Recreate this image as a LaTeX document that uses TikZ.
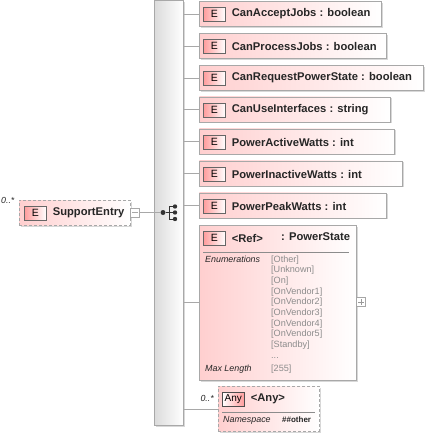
\documentclass[tikz,border=0pt]{standalone}
\usepackage{fontspec}
\setmainfont{Liberation Sans}
\usepackage{xcolor}
\usetikzlibrary{shadows,positioning,calc}
\definecolor{boxPink}{HTML}{FFCFCF}
\definecolor{badgePink}{HTML}{FF9C9C}
\definecolor{edgeGrey}{HTML}{A8A8A8}
\definecolor{labelGrey}{HTML}{8C8C8C}
\begin{document}
\begin{tikzpicture}[
    x=1pt, y=-1pt,
    font=\fontsize{11.2}{13}\selectfont\bfseries,
    elembox/.style={draw=edgeGrey, left color=boxPink, right color=white, anchor=north west, inner sep=0pt, line width=0.8pt,
      drop shadow={shadow xshift=1.5pt, shadow yshift=-1.5pt, fill=black!30, opacity=0.5}},
    optbox/.style={elembox, dashed, dash pattern=on 3pt off 2pt},
    badge/.style={draw=black!60, left color=badgePink, right color=white, anchor=north west, inner sep=0pt, minimum width=22pt, minimum height=13.5pt, font=\fontsize{10.5}{11}\selectfont, line width=0.6pt},
    elemtext/.style={anchor=west, inner sep=0pt, text=black!85},
    facet/.style={anchor=north west, inner sep=0pt, font=\fontsize{8.9}{10}\selectfont\itshape, text=black!85},
    enumval/.style={anchor=north west, inner sep=0pt, font=\fontsize{9.1}{10.65}\selectfont, text=labelGrey, align=left},
    wire/.style={draw=edgeGrey, line width=0.6pt},
    dotnode/.style={circle, fill=black!80, inner sep=0pt, minimum size=5pt}
  ]
    \useasboundingbox (0,0) rectangle (427,437);
    % compositor column
    \node[draw=edgeGrey, anchor=north west, inner sep=0pt, minimum width=29pt, minimum height=425pt, left color=black!14, right color=white, line width=0.8pt,
      drop shadow={shadow xshift=1.5pt, shadow yshift=-1.5pt, fill=black!30, opacity=0.5}] (spine) at (154,0) {};

    % root element
    \node[optbox, minimum width=111pt, minimum height=25pt] (root) at (19,200) {};
    \node[badge] (rootE) at (24,206) {E};
    \node[elemtext, right=6pt of rootE] (rootName) {SupportEntry};
    \node[draw=edgeGrey, anchor=west, inner sep=0pt, minimum width=9pt, minimum height=9pt, fill=white, line width=0.5pt] (rootMinus) at (130,212.5) {};
    \node[anchor=north west, inner sep=0pt, font=\fontsize{8.8}{9}\selectfont\itshape, text=black!85] (rootOcc) at (1,197) {0..*};
    \draw[wire, line width=0.5pt] ($(rootMinus.west)+(2,0)$) -- ($(rootMinus.east)+(-2,0)$);

    % sequence icon
    \draw[wire] (rootMinus) -- (spine.west |- rootMinus);
    \node[dotnode] (seqIn) at (163,212.5) {};
    \node[dotnode, minimum size=4.4pt] (seqA) at (175,206.5) {};
    \node[dotnode, minimum size=4.4pt] (seqB) at (175,212.5) {};
    \node[dotnode, minimum size=4.4pt] (seqC) at (175,219) {};
    \coordinate (seqMid) at (169,212.5);
    \draw[wire] (spine.west |- rootMinus) -- (seqIn);
    \draw[black!80, line width=1pt] (seqIn) -- (seqB);
    \draw[black!80, line width=1pt] (seqA) -| (seqMid);
    \draw[black!80, line width=1pt] (seqC) -| (seqMid);

    % child elements
    \node[elembox, minimum width=182pt, minimum height=25pt] (accept) at (199,1) {};
    \node[badge] (acceptE) at (203,7) {E};
    \node[elemtext, right=6pt of acceptE] (acceptName) {CanAcceptJobs : boolean};

    \node[elembox, minimum width=187pt, minimum height=25pt] (process) at (199,33) {};
    \node[badge] (processE) at (203,39) {E};
    \node[elemtext, right=6pt of processE] (processName) {CanProcessJobs : boolean};

    \node[elembox, minimum width=224pt, minimum height=25pt] (request) at (199,65) {};
    \node[badge] (requestE) at (203,71) {E};
    \node[elemtext, right=6pt of requestE] (requestName) {CanRequestPowerState : boolean};

    \node[elembox, minimum width=191pt, minimum height=25pt] (iface) at (199,96.5) {};
    \node[badge] (ifaceE) at (203,103) {E};
    \node[elemtext, right=6pt of ifaceE] (ifaceName) {CanUseInterfaces : string};

    \node[elembox, minimum width=195pt, minimum height=25pt] (active) at (199,128.5) {};
    \node[badge] (activeE) at (203,135) {E};
    \node[elemtext, right=6pt of activeE] (activeName) {PowerActiveWatts : int};

    \node[elembox, minimum width=203pt, minimum height=25pt] (inactive) at (199,160.5) {};
    \node[badge] (inactiveE) at (203,167) {E};
    \node[elemtext, right=6pt of inactiveE] (inactiveName) {PowerInactiveWatts : int};

    \node[elembox, minimum width=187pt, minimum height=25pt] (peak) at (199,192.5) {};
    \node[badge] (peakE) at (203,199) {E};
    \node[elemtext, right=6pt of peakE] (peakName) {PowerPeakWatts : int};

    % ref element with enumeration facets
    \node[elembox, minimum width=157pt, minimum height=155pt] (ref) at (199,225) {};
    \node[badge] (refE) at (203,231) {E};
    \node[elemtext, right=6pt of refE] (refName) {<Ref>};
    \node[elemtext] (refType) at (281,237) {: PowerState};
    \coordinate (refRuleA) at (203,252);
    \coordinate (refRuleB) at (349,252);
    \draw[draw=black!45, line width=0.5pt] (refRuleA) -- (refRuleB);
    \node[facet] (refEnum) at (205,256) {Enumerations};
    \node[enumval, text width=70pt] (refVals) at (271,255.5) {{[Other]}\\{[Unknown]}\\{[On]}\\{[OnVendor1]}\\{[OnVendor2]}\\{[OnVendor3]}\\{[OnVendor4]}\\{[OnVendor5]}\\{[Standby]}\\...};
    \node[facet] (refLenLabel) at (205,365) {Max Length};
    \node[enumval] (refLen) at (271,365) {[255]};
    \node[draw=black!35, anchor=west, inner sep=0pt, minimum width=9pt, minimum height=9pt, fill=white, line width=0.5pt] (refPlus) at (356,302) {};
    \draw[black!40, line width=0.5pt] ($(refPlus.west)+(2,0)$) -- ($(refPlus.east)+(-2,0)$);
    \draw[black!40, line width=0.5pt] ($(refPlus.north)+(0,2)$) -- ($(refPlus.south)+(0,-2)$);

    % wildcard
    \node[optbox, minimum width=101pt, minimum height=45pt] (any) at (218,386) {};
    \node[draw=black!70, left color=white, right color=badgePink, anchor=north west, inner sep=0pt, minimum width=22pt, minimum height=14pt, font=\fontsize{10}{11}\selectfont, line width=0.6pt] (anyBadge) at (222,392) {Any};
    \node[elemtext, right=6pt of anyBadge] (anyName) {<Any>};
    \node[anchor=east, inner sep=0pt, font=\fontsize{8.8}{9}\selectfont\itshape, text=black!85] (anyOcc) at (214,398) {0..*};
    \coordinate (anyRuleA) at (222,412);
    \coordinate (anyRuleB) at (315,412);
    \draw[draw=black!45, line width=0.5pt] (anyRuleA) -- (anyRuleB);
    \node[facet] (anyNsLabel) at (223,416) {Namespace};
    \node[anchor=north west, inner sep=0pt, font=\fontsize{8}{9}\selectfont\bfseries, text=black!85] (anyNs) at (282,416) {\#\#other};

    % connectors
    \draw[wire] (spine.east |- accept.west) -- (accept.west);
    \draw[wire] (spine.east |- process.west) -- (process.west);
    \draw[wire] (spine.east |- request.west) -- (request.west);
    \draw[wire] (spine.east |- iface.west) -- (iface.west);
    \draw[wire] (spine.east |- active.west) -- (active.west);
    \draw[wire] (spine.east |- inactive.west) -- (inactive.west);
    \draw[wire] (spine.east |- peak.west) -- (peak.west);
    \draw[wire] (spine.east |- refPlus.west) -- (ref.west |- refPlus.west);
    \draw[wire] (spine.east |- any.west) -- (any.west);
  \end{tikzpicture}
\end{document}
